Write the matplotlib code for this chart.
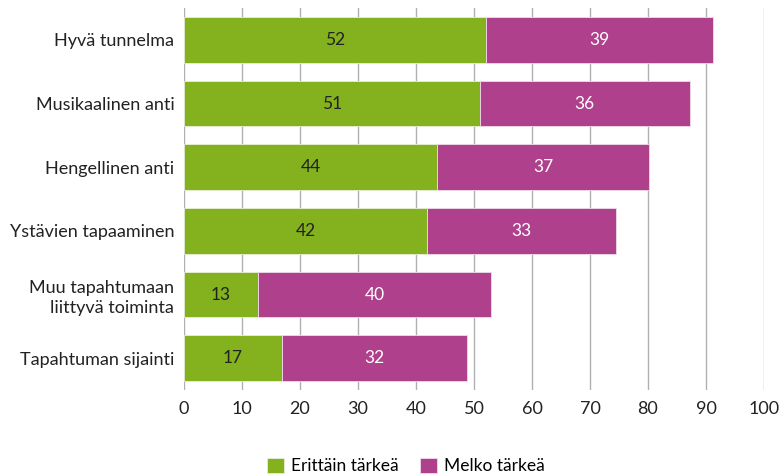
import matplotlib.pyplot as plt
import numpy as np

plt.rcParams['font.family'] = ['Lato', 'DejaVu Sans']

categories = ['Hyvä tunnelma', 'Musikaalinen anti', 'Hengellinen anti',
              'Ystävien tapaaminen', 'Muu tapahtumaan\nliittyvä toiminta',
              'Tapahtuman sijainti']
erittain = [52.1, 51.0, 43.6, 41.9, 12.8, 16.9]
melko = [39.1, 36.2, 36.6, 32.6, 40.1, 31.9]
series_names = ['Erittäin tärkeä', 'Melko tärkeä']

green = '#84b21e'
pink = '#ae408c'

fig = plt.figure(figsize=(7.83, 4.76), dpi=100)
ax = fig.add_axes([184 / 783, 1 - 390 / 476, 580 / 783, 382 / 476])

y = np.arange(len(categories))
b1 = ax.barh(y, erittain, height=0.72, color=green, edgecolor='#e8efd8',
             linewidth=0.6, label=series_names[0], zorder=3)
b2 = ax.barh(y, melko, left=erittain, height=0.72, color=pink,
             edgecolor='#f0dcea', linewidth=0.6, label=series_names[1], zorder=3)

for i in range(len(categories)):
    ax.text(erittain[i] / 2, y[i], f'{erittain[i]:.0f}', ha='center',
            va='center', fontsize=12.5, color='#222222', zorder=4)
    ax.text(erittain[i] + melko[i] / 2, y[i], f'{melko[i]:.0f}', ha='center',
            va='center', fontsize=12.5, color='white', zorder=4)

ax.set_xlim(0, 100)
ax.set_ylim(len(categories) - 0.5, -0.5)
ax.set_xticks(np.arange(0, 101, 10))
ax.set_yticks(y)
ax.set_yticklabels(categories, fontsize=13, color='#222222', linespacing=1.3)
ax.tick_params(axis='x', labelsize=13, colors='#222222', length=0, pad=8)
ax.tick_params(axis='y', length=0, pad=7)
ax.grid(axis='x', color='#b0b0b0', linewidth=1, zorder=0)
for s in ax.spines.values():
    s.set_visible(False)

fig.legend(handles=[b1, b2], loc='center', bbox_to_anchor=(406 / 783, 1 - 466 / 476),
           ncol=2, frameon=False, fontsize=12.5, handlelength=1.0,
           handleheight=1.0, handletextpad=0.4, columnspacing=1.2)

fig.savefig('out.png', dpi=100)
